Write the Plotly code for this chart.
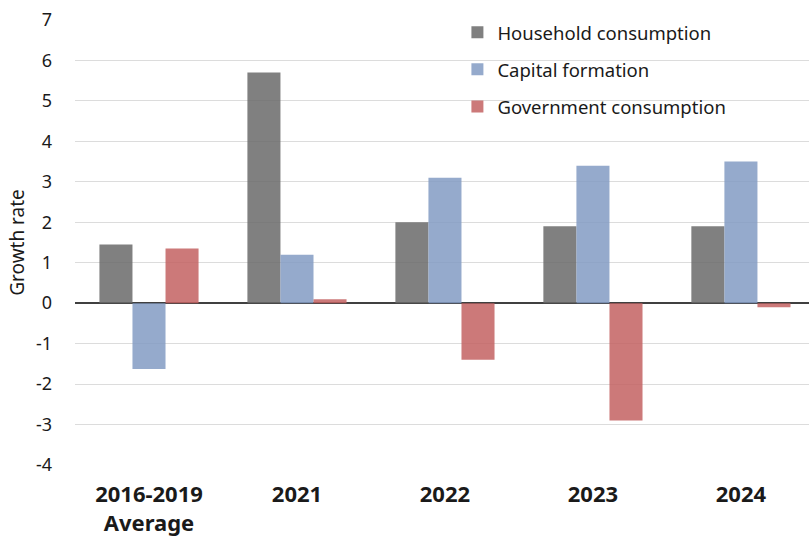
import plotly.graph_objects as go

categories = ["2016-2019<br>Average", "2021", "2022", "2023", "2024"]
household = [1.45, 5.7, 2.0, 1.9, 1.9]
capital = [-1.63, 1.2, 3.1, 3.4, 3.5]
government = [1.35, 0.1, -1.4, -2.9, -0.1]
y_ticks = [-4, -3, -2, -1, 0, 1, 2, 3, 4, 5, 6, 7]
y_tick_labels = ["-4", "-3", "-2", "-1", "0", "1", "2", "3", "4", "5", "6", "7"]

series = [
    ("Household consumption", household, "rgba(106,106,106,0.85)"),
    ("Capital formation", capital, "rgba(131,155,195,0.85)"),
    ("Government consumption", government, "rgba(195,98,98,0.85)"),
]

fig = go.Figure()
for i, (name, vals, col) in enumerate(series):
    fig.add_trace(go.Bar(
        x=categories, y=vals, name=name,
        marker=dict(color=col, line=dict(width=0)),
        legendgroup=str(i),
    ))

fig.update_layout(
    width=809, height=538,
    margin=dict(l=75, r=0, t=20, b=73),
    paper_bgcolor="white", plot_bgcolor="white",
    font=dict(family="Noto Sans", size=18, color="#1a1a1a"),
    barmode="group", bargap=0.33, bargroupgap=0,
    legend=dict(
        x=0.521, y=1.014, xanchor="left", yanchor="top",
        bgcolor="rgba(0,0,0,0)", font=dict(size=18.5),
        traceorder="grouped", tracegroupgap=10,
    ),
    xaxis=dict(
        range=[-0.5, 4.46], showgrid=False, showline=False,
        tickfont=dict(size=22, family="Noto Sans", weight="bold", color="#1a1a1a"),
        ticks="", ticklabelstandoff=14,
    ),
    yaxis=dict(
        range=[-4, 7], tickvals=y_ticks, ticktext=y_tick_labels, showgrid=True,
        gridcolor="#dcdcdc", gridwidth=1,
        zeroline=True, zerolinecolor="#404040", zerolinewidth=1.5,
        ticks="", ticklabelstandoff=22,
        title=dict(text="Growth rate", font=dict(size=19), standoff=6),
        tickfont=dict(size=18),
    ),
)

fig.write_html("out.html")
